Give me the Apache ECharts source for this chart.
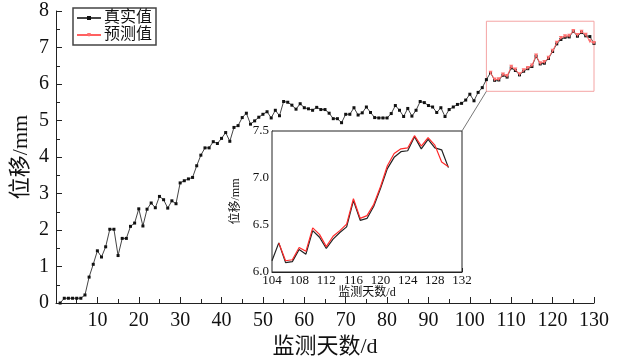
<!DOCTYPE html>
<html lang="zh">

<head>
    <meta charset="UTF-8">
    <title>位移监测</title>
    <script src="https://cdn.jsdelivr.net/npm/echarts@6/dist/echarts.min.js"></script>
    <style>
        html, body { margin: 0; padding: 0; background: #fff; }
        #main { width: 620px; height: 358px; }
    </style>
</head>

<body>
    <div id="main"></div>
<script type="text/javascript">
    // 监测天数 1..130 的真实位移
    var days = [];
    for (var i = 1; i <= 130; i++) days.push(i);
    var realVals = [
        0, 0.13, 0.13, 0.13, 0.13, 0.13, 0.22, 0.71, 1.06, 1.43,
        1.26, 1.54, 2.02, 2.02, 1.30, 1.77, 1.77, 2.10, 2.19, 2.58,
        2.11, 2.57, 2.74, 2.61, 2.92, 2.83, 2.60, 2.80, 2.72, 3.29,
        3.35, 3.40, 3.44, 3.76, 4.05, 4.25, 4.25, 4.42, 4.37, 4.51,
        4.67, 4.43, 4.81, 4.86, 5.08, 5.20, 4.90, 4.99, 5.09, 5.17,
        5.24, 5.07, 5.28, 5.13, 5.52, 5.50, 5.42, 5.31, 5.46, 5.35,
        5.32, 5.28, 5.36, 5.30, 5.30, 5.20, 5.05, 5.05, 4.94, 5.17,
        5.17, 5.35, 5.15, 5.21, 5.37, 5.22, 5.08, 5.07, 5.07, 5.07,
        5.19, 5.41, 5.28, 5.11, 5.33, 5.12, 5.28, 5.52, 5.49, 5.41,
        5.37, 5.22, 5.35, 5.11, 5.30, 5.37, 5.44, 5.47, 5.56, 5.72,
        5.54, 5.77, 5.90, 6.12, 6.31, 6.10, 6.11, 6.24, 6.19, 6.44,
        6.37, 6.25, 6.35, 6.42, 6.48, 6.76, 6.55, 6.57, 6.70, 6.89,
        7.10, 7.22, 7.28, 7.29, 7.44, 7.31, 7.41, 7.32, 7.30, 7.11
    ];
    // 预测值 (105..130)
    var predDays = [];
    for (var j = 105; j <= 130; j++) predDays.push(j);
    var predVals = [
        6.31, 6.12, 6.13, 6.26, 6.22, 6.47, 6.40, 6.27, 6.38, 6.44,
        6.51, 6.78, 6.57, 6.60, 6.72, 6.91, 7.13, 7.26, 7.31, 7.32,
        7.45, 7.34, 7.43, 7.35, 7.17, 7.12
    ];
    // 放大区域
    var zoomX = [104, 130];
    var zoomY = [5.8, 7.72];

    var realData = days.map(function (d, k) { return [d, realVals[k]]; });
    var predData = predDays.map(function (d, k) { return [d, predVals[k]]; });
    var realZoom = realData.filter(function (p) { return p[0] >= 104; });

    var font = '"Times New Roman", "Liberation Serif", "Noto Sans CJK SC", serif';
    var axisColor = '#222';

    var myChart = echarts.init(document.getElementById('main'));

    var option = {
        backgroundColor: '#fff',
        animation: false,
        textStyle: { fontFamily: font, color: '#111' },
        legend: {
            left: 73,
            top: 8,
            orient: 'vertical',
            itemGap: 1,
            itemWidth: 24,
            itemHeight: 5,
            padding: [2, 4, 2, 3],
            borderColor: '#444',
            borderWidth: 1.5,
            textStyle: { fontFamily: font, fontSize: 16, color: '#111', padding: [0, 0, 0, -2] },
            data: ['真实值', '预测值']
        },
        grid: [
            { left: 56, right: 26, top: 11, bottom: 55, outerBoundsMode: 'none' },
            { left: 272, right: 158, top: 131, bottom: 86, outerBoundsMode: 'none', show: true, backgroundColor: '#fff', borderColor: axisColor, borderWidth: 1, z: 5 }
        ],
        xAxis: [{
            type: 'value',
            gridIndex: 0,
            min: 0,
            max: 130,
            interval: 10,
            name: '监测天数/d',
            nameLocation: 'middle',
            nameGap: 33,
            nameMoveOverlap: false,
            nameTextStyle: { fontFamily: font, fontSize: 22, color: '#111' },
            axisLine: { lineStyle: { color: axisColor, width: 1 } },
            axisTick: { inside: true, length: 6, lineStyle: { color: axisColor } },
            minorTick: { show: true, splitNumber: 2, length: 4, lineStyle: { color: axisColor } },
            splitLine: { show: false },
            axisLabel: {
                fontFamily: font, fontSize: 20, color: '#111', margin: 8,
                formatter: function (v) { return v === 0 ? '' : v; }
            }
        }, {
            type: 'value',
            gridIndex: 1,
            min: 104,
            max: 132,
            interval: 4,
            name: '监测天数/d',
            nameLocation: 'middle',
            nameGap: 15,
            nameMoveOverlap: false,
            nameTextStyle: { fontFamily: font, fontSize: 12, color: '#111' },
            axisLine: { lineStyle: { color: axisColor, width: 1 } },
            axisTick: { inside: true, length: 4, lineStyle: { color: axisColor } },
            minorTick: { show: true, splitNumber: 2, length: 2, lineStyle: { color: axisColor } },
            splitLine: { show: false },
            axisLabel: { fontFamily: font, fontSize: 13, color: '#111', margin: 2 }
        }],
        yAxis: [{
            type: 'value',
            gridIndex: 0,
            min: 0,
            max: 8,
            interval: 1,
            name: '位移/mm',
            nameLocation: 'middle',
            nameGap: 24,
            nameRotate: 90,
            nameMoveOverlap: false,
            nameTextStyle: { fontFamily: font, fontSize: 22, color: '#111' },
            axisLine: { show: true, lineStyle: { color: axisColor, width: 1 } },
            axisTick: { show: true, inside: true, length: 6, lineStyle: { color: axisColor } },
            minorTick: { show: true, splitNumber: 2, length: 4, lineStyle: { color: axisColor } },
            splitLine: { show: false },
            axisLabel: { fontFamily: font, fontSize: 20, color: '#111', margin: 7 }
        }, {
            type: 'value',
            gridIndex: 1,
            min: 6,
            max: 7.5,
            interval: 0.5,
            name: '位移/mm',
            nameLocation: 'middle',
            nameGap: 30,
            nameRotate: 90,
            nameMoveOverlap: false,
            nameTextStyle: { fontFamily: font, fontSize: 12, color: '#111' },
            axisLine: { show: true, lineStyle: { color: axisColor, width: 1 } },
            axisTick: { show: true, inside: true, length: 4, lineStyle: { color: axisColor } },
            minorTick: { show: true, splitNumber: 2, length: 2, lineStyle: { color: axisColor } },
            splitLine: { show: false },
            axisLabel: {
                fontFamily: font, fontSize: 13, color: '#111', margin: 3,
                formatter: function (v) { return v.toFixed(1); }
            }
        }],
        series: [{
            name: '真实值',
            type: 'line',
            xAxisIndex: 0,
            yAxisIndex: 0,
            data: realData,
            symbol: 'rect',
            symbolSize: 3,
            showAllSymbol: true,
            lineStyle: { color: '#444', width: 1 },
            itemStyle: { color: '#111' },
            z: 3
        }, {
            name: '预测值',
            type: 'line',
            xAxisIndex: 0,
            yAxisIndex: 0,
            data: predData,
            symbol: 'triangle',
            symbolRotate: 180,
            symbolSize: 4,
            lineStyle: { color: '#ff6060', width: 1 },
            itemStyle: { color: '#ff7070' },
            z: 4,
            markArea: {
                silent: true,
                itemStyle: { color: 'rgba(0,0,0,0)', borderColor: '#f4a4a4', borderWidth: 1 },
                data: [[{ coord: [zoomX[0], zoomY[0]] }, { coord: [zoomX[1], zoomY[1]] }]]
            }
        }, {
            name: '真实值-局部',
            type: 'line',
            xAxisIndex: 1,
            yAxisIndex: 1,
            data: realZoom,
            showSymbol: false,
            lineStyle: { color: '#222', width: 1.2 },
            z: 6
        }, {
            name: '预测值-局部',
            type: 'line',
            xAxisIndex: 1,
            yAxisIndex: 1,
            data: predData,
            showSymbol: false,
            lineStyle: { color: '#ff2a2a', width: 1.2 },
            z: 7
        }]
    };
    myChart.setOption(option);

    // 连接放大框与局部图
    var p1 = myChart.convertToPixel({ gridIndex: 0 }, [zoomX[0], zoomY[0]]);
    var p2 = myChart.convertToPixel({ gridIndex: 1 }, [132, 7.5]);
    myChart.setOption({
        graphic: [{
            type: 'line',
            shape: { x1: p1[0], y1: p1[1], x2: p2[0], y2: p2[1] },
            style: { stroke: '#777', lineWidth: 1 },
            z: 10
        }]
    });
</script>

</body>

</html>
